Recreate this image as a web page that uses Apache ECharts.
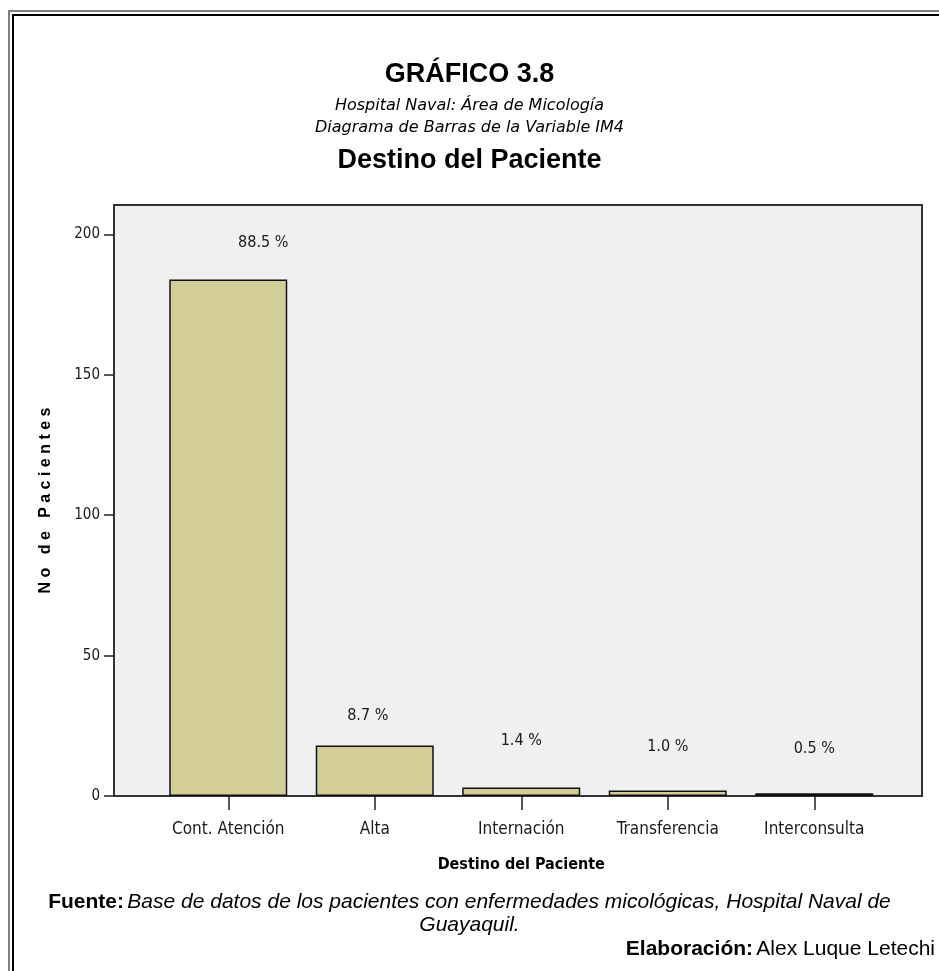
<!DOCTYPE html>
<html>
<head>
<meta charset="utf-8">
<script src="https://cdn.jsdelivr.net/npm/echarts@6/dist/echarts.min.js"></script>
<style>
  html, body { margin: 0; padding: 0; background: #fff; }
  #chart { width: 939px; height: 971px; }
</style>
</head>
<body>
<div id="chart"></div>
<script>
// datos
var categorias = ['Cont. Atención', 'Alta', 'Internación', 'Transferencia', 'Interconsulta'];
var pacientes = [184, 18, 3, 2, 1];
var porcentajes = ['88.5 %', '8.7 %', '1.4 %', '1.0 %', '0.5 %'];
var yTicks = [0, 50, 100, 150, 200];

// pequeños ajustes de la etiqueta (como en el original de SPSS)
var labelShift = [[35, 3], [-7, 10], [0, -7], [0, -4], [0, -4]];

var narrow = "'Liberation Sans Narrow', 'DejaVu Sans Condensed', Arial, sans-serif";
var textColor = '#1a1a1a';

var barData = pacientes.map(function (v, i) {
  return {
    value: v,
    label: { formatter: porcentajes[i], offset: labelShift[i] }
  };
});

var myChart = echarts.init(document.getElementById('chart'));

var option = {
  backgroundColor: '#fff',
  animation: false,
  title: [
    {
      text: 'GRÁFICO 3.8', left: 'center', top: 56,
      textStyle: { fontFamily: 'Arial, Liberation Sans', fontWeight: 'bold', fontSize: 27, color: '#000' }
    },
    {
      text: 'Hospital Naval: Área de Micología', left: 'center', top: 93,
      textStyle: { fontFamily: 'DejaVu Sans', fontStyle: 'italic', fontWeight: 'normal', fontSize: 16, color: '#000' }
    },
    {
      text: 'Diagrama de Barras de la Variable IM4', left: 'center', top: 115,
      textStyle: { fontFamily: 'DejaVu Sans', fontStyle: 'italic', fontWeight: 'normal', fontSize: 16, color: '#000' }
    },
    {
      text: 'Destino del Paciente', left: 'center', top: 142,
      textStyle: { fontFamily: 'Arial, Liberation Sans', fontWeight: 'bold', fontSize: 27, color: '#000' }
    }
  ],
  graphic: [
    {
      type: 'rect', silent: true,
      shape: { x: 9, y: 11, width: 960, height: 1000 },
      style: { fill: null, stroke: '#555', lineWidth: 1.5 }
    },
    {
      type: 'rect', silent: true,
      shape: { x: 13, y: 15, width: 960, height: 1000 },
      style: { fill: null, stroke: '#000', lineWidth: 2 }
    },
    {
      type: 'text', left: 'center', top: 892,
      style: {
        text: '{b|Fuente:} {i|Base de datos de los pacientes con enfermedades micológicas, Hospital Naval de}',
        rich: {
          b: { fontFamily: 'Arial, Liberation Sans', fontWeight: 'bold', fontSize: 21, fill: '#000' },
          i: { fontFamily: 'Arial, Liberation Sans', fontStyle: 'italic', fontSize: 21, fill: '#000' }
        }
      }
    },
    {
      type: 'text', left: 'center', top: 915,
      style: { text: 'Guayaquil.', font: 'italic 21px Arial, Liberation Sans', fill: '#000' }
    },
    {
      type: 'text', right: 4, top: 939,
      style: {
        text: '{b|Elaboración:} {n|Alex Luque Letechi}',
        rich: {
          b: { fontFamily: 'Arial, Liberation Sans', fontWeight: 'bold', fontSize: 21, fill: '#000' },
          n: { fontFamily: 'Arial, Liberation Sans', fontSize: 21, fill: '#000' }
        }
      }
    }
  ],
  grid: [
    // marco gris del area de trazado
    {
      left: 114, top: 205, width: 808, height: 591,
      show: true, backgroundColor: '#f0f0f0', borderColor: '#333', borderWidth: 2
    },
    // area de las barras
    { left: 155, top: 205, width: 732.5, height: 591 }
  ],
  xAxis: [
    { gridIndex: 0, type: 'category', data: categorias, show: false },
    {
      gridIndex: 1, type: 'category', data: categorias,
      axisLine: { show: false },
      axisTick: { show: true, alignWithLabel: true, length: 14, lineStyle: { color: '#222', width: 1.5 } },
      axisLabel: { margin: 25, color: textColor, fontFamily: narrow, fontSize: 17 },
      name: 'Destino del Paciente', nameLocation: 'middle', nameGap: 61,
      nameTextStyle: { fontFamily: narrow, fontWeight: 'bold', fontSize: 16, color: '#000' }
    }
  ],
  yAxis: [
    {
      gridIndex: 0, type: 'value', min: 0, max: 210.5,
      axisLine: { show: false },
      splitLine: { show: false },
      axisTick: { show: true, customValues: yTicks, length: 10, lineStyle: { color: '#222', width: 1.5 } },
      axisLabel: { customValues: yTicks, margin: 14, color: textColor, fontFamily: narrow, fontSize: 15 },
      name: 'N o   d e   P a c i e n t e s', nameLocation: 'middle', nameGap: 60, nameRotate: 90,
      nameTextStyle: { fontFamily: 'Arial, Liberation Sans', fontWeight: 'bold', fontSize: 16, color: '#000' }
    },
    { gridIndex: 1, type: 'value', min: 0, max: 210.5, show: false }
  ],
  series: [
    {
      type: 'bar',
      xAxisIndex: 1, yAxisIndex: 1,
      barWidth: 118,
      data: barData,
      itemStyle: { color: '#d3ce98', borderColor: '#111', borderWidth: 1.5 },
      label: {
        show: true, position: 'top', distance: 32,
        color: textColor, fontFamily: narrow, fontSize: 16
      }
    }
  ]
};

myChart.setOption(option);
</script>
</body>
</html>
